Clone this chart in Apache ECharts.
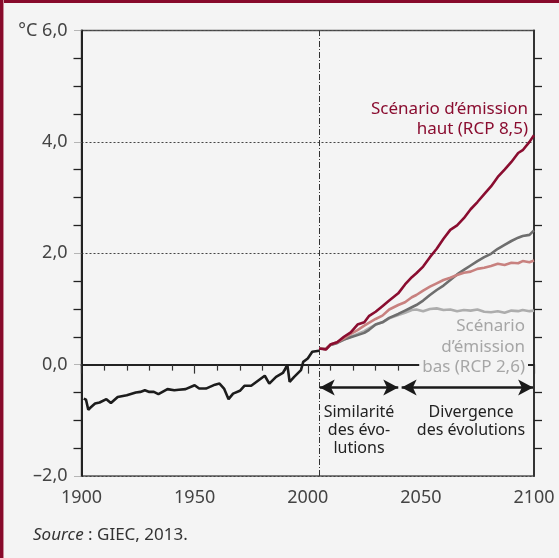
<!DOCTYPE html>
<html>
<head>
<meta charset="utf-8">
<script src="https://cdn.jsdelivr.net/npm/echarts@6/dist/echarts.min.js"></script>
<style>
  html, body { margin: 0; padding: 0; background: #f4f4f4; }
  #wrap { position: relative; width: 559px; height: 558px; }
  #chart { width: 559px; height: 558px; }
  .bar-top { position: absolute; left: 0; top: 0; width: 559px; height: 3px; background: #870a2b; }
  .bar-left { position: absolute; left: 0; top: 0; width: 3px; height: 558px; background: #870a2b; border-right: 1px solid #c98a98; }
</style>
</head>
<body>
<div id="wrap">
  <div id="chart"></div>
  <div class="bar-top"></div>
  <div class="bar-left"></div>
</div>
<script>
// observed temperature anomaly (°C)
const histYears = [1901, 1902, 1903, 1904, 1906, 1908, 1911, 1913, 1916, 1920, 1924, 1926, 1928, 1930, 1932, 1934, 1938, 1941, 1943, 1946, 1950, 1952, 1955, 1959, 1961, 1963, 1965, 1967, 1970, 1972, 1975, 1978, 1981, 1983, 1986, 1989, 1991, 1992, 1994, 1997, 1998, 2000, 2002, 2005]
const histTemp = [-0.61, -0.63, -0.81, -0.77, -0.70, -0.68, -0.62, -0.69, -0.58, -0.55, -0.50, -0.49, -0.46, -0.49, -0.49, -0.53, -0.44, -0.46, -0.45, -0.44, -0.37, -0.43, -0.43, -0.36, -0.34, -0.43, -0.62, -0.52, -0.47, -0.38, -0.38, -0.29, -0.20, -0.34, -0.22, -0.15, -0.01, -0.31, -0.22, -0.10, 0.05, 0.11, 0.23, 0.25]

// projections
const futureYears = [2005, 2008, 2010, 2013, 2016, 2019, 2022, 2025, 2027, 2030, 2033, 2036, 2040, 2043, 2046, 2048, 2051, 2054, 2057, 2060, 2063, 2066, 2069, 2072, 2075, 2078, 2081, 2084, 2087, 2090, 2093, 2095, 2098, 2100]
const rcp85 = [0.29, 0.27, 0.36, 0.40, 0.50, 0.58, 0.72, 0.76, 0.87, 0.95, 1.05, 1.15, 1.28, 1.44, 1.57, 1.64, 1.76, 1.93, 2.08, 2.26, 2.42, 2.50, 2.63, 2.79, 2.92, 3.06, 3.20, 3.37, 3.50, 3.64, 3.80, 3.85, 4.00, 4.12]
const rcp60 = [0.29, 0.28, 0.35, 0.39, 0.45, 0.49, 0.53, 0.57, 0.62, 0.72, 0.76, 0.84, 0.91, 0.97, 1.03, 1.07, 1.15, 1.25, 1.34, 1.42, 1.52, 1.62, 1.70, 1.78, 1.86, 1.93, 1.99, 2.08, 2.15, 2.22, 2.28, 2.31, 2.33, 2.41]
const rcp45 = [0.29, 0.28, 0.36, 0.40, 0.47, 0.55, 0.62, 0.70, 0.75, 0.82, 0.88, 0.99, 1.07, 1.12, 1.21, 1.25, 1.33, 1.40, 1.46, 1.52, 1.56, 1.61, 1.65, 1.67, 1.72, 1.74, 1.77, 1.81, 1.79, 1.83, 1.82, 1.86, 1.84, 1.87]
const rcp26 = [0.29, 0.28, 0.35, 0.39, 0.45, 0.50, 0.55, 0.60, 0.65, 0.72, 0.76, 0.83, 0.89, 0.93, 0.98, 0.99, 0.96, 1.00, 1.01, 0.98, 0.99, 0.96, 0.98, 0.97, 0.99, 0.95, 0.94, 0.96, 0.93, 0.97, 0.96, 0.98, 0.96, 0.97]

const splitYear = 2005
const arrowLevel = -0.41
const similarSpan = [2005.3, 2040]
const divergeSpan = [2041.5, 2099.6]

const pairs = (xs, ys) => xs.map((x, i) => [x, ys[i]])
const fmt = v => {
  if (v === 6) return '°C 6,0'
  if (v < 0) return '–' + Math.abs(v).toFixed(1).replace('.', ',')
  return v.toFixed(1).replace('.', ',')
}

const FONT = '"Noto Sans", sans-serif'
const chart = echarts.init(document.getElementById('chart'))

const lineSeries = (name, data, color, z) => ({
  name,
  type: 'line',
  data,
  showSymbol: false,
  symbol: 'none',
  z,
  lineStyle: { color, width: 2.6 },
  emphasis: { disabled: true }
})

const arrowEnd = x => ({ coord: [x, arrowLevel], symbol: 'arrow', symbolSize: [12, 15] })

chart.setOption({
  animation: false,
  backgroundColor: '#f4f4f4',
  textStyle: { fontFamily: FONT },
  grid: {
    left: 81.5,
    right: 25,
    top: 30.5,
    bottom: 82,
    show: true,
    borderColor: '#555',
    borderWidth: 1.5,
    backgroundColor: 'transparent'
  },
  xAxis: {
    type: 'value',
    min: 1900,
    max: 2100,
    interval: 50,
    axisLine: { show: true, lineStyle: { color: '#222', width: 2 } },
    axisTick: { show: true, length: 9, lineStyle: { color: '#333', width: 1.2 } },
    minorTick: { show: true, splitNumber: 5, length: 6, lineStyle: { color: '#333', width: 1.2 } },
    splitLine: { show: false },
    axisLabel: { color: '#444', fontSize: 18, margin: 13, fontFamily: FONT, formatter: v => String(v) }
  },
  yAxis: [
    {
      type: 'value',
      min: -2,
      max: 6,
      interval: 2,
      axisLine: { show: true, lineStyle: { color: '#222', width: 2 } },
      axisTick: { show: true, length: 8, lineStyle: { color: '#777', width: 1, type: 'dotted' } },
      minorTick: { show: true, splitNumber: 4, length: 8, lineStyle: { color: '#222', width: 1.3 } },
      splitLine: { show: true, lineStyle: { color: '#444', width: 1, type: [2, 2] } },
      axisLabel: { color: '#444', fontSize: 18, margin: 14, formatter: fmt, fontFamily: FONT }
    },
    {
      type: 'value',
      position: 'right',
      min: -2,
      max: 6,
      interval: 2,
      axisLine: { show: true, lineStyle: { color: '#333', width: 2 } },
      axisTick: { show: false },
      minorTick: { show: true, splitNumber: 4, length: 8, lineStyle: { color: '#222', width: 1.3 } },
      splitLine: { show: false },
      axisLabel: { show: false }
    }
  ],
  series: [
    lineSeries('RCP 2,6', pairs(futureYears, rcp26), '#adadad', 2),
    lineSeries('RCP 6,0', pairs(futureYears, rcp60), '#6e6e6e', 3),
    lineSeries('RCP 4,5', pairs(futureYears, rcp45), '#c8817f', 4),
    lineSeries('RCP 8,5', pairs(futureYears, rcp85), '#8a0d30', 5),
    Object.assign(lineSeries('Observations', pairs(histYears, histTemp), '#1c1c1c', 6), {
      markLine: {
        silent: true,
        symbol: 'none',
        label: { show: false },
        animation: false,
        data: [
          { xAxis: splitYear, lineStyle: { color: '#333', width: 1, type: [6, 2, 1, 2] } },
          [
            Object.assign(arrowEnd(similarSpan[0]), { lineStyle: { color: '#1a1a1a', width: 2.5, type: 'solid' } }),
            arrowEnd(similarSpan[1])
          ],
          [
            Object.assign(arrowEnd(divergeSpan[0]), { lineStyle: { color: '#1a1a1a', width: 2.5, type: 'solid' } }),
            arrowEnd(divergeSpan[1])
          ]
        ]
      }
    })
  ],
  graphic: [
    {
      type: 'text', z: 100, x: 528, y: 119,
      style: {
        text: 'Scénario d’émission\nhaut (RCP 8,5)',
        textAlign: 'right', textVerticalAlign: 'middle',
        font: '17px ' + FONT, lineHeight: 20, fill: '#8a0d30'
      }
    },
    {
      type: 'text', z: 100, x: 528, y: 347,
      style: {
        text: 'Scénario\nd’émission\nbas (RCP 2,6)',
        textAlign: 'right', textVerticalAlign: 'middle',
        font: '17px ' + FONT, lineHeight: 20.6, fill: '#a6a6a6',
        backgroundColor: '#f4f4f4', padding: [0, 3, 0, 3]
      }
    },
    {
      type: 'text', z: 100, x: 359, y: 430.5,
      style: {
        text: 'Similarité\ndes évo-\nlutions',
        textAlign: 'center', textVerticalAlign: 'middle',
        font: '16px ' + FONT, lineHeight: 17.8, fill: '#222'
      }
    },
    {
      type: 'text', z: 100, x: 471, y: 421.5,
      style: {
        text: 'Divergence\ndes évolutions',
        textAlign: 'center', textVerticalAlign: 'middle',
        font: '16px ' + FONT, lineHeight: 17.5, fill: '#222'
      }
    },
    {
      type: 'text', z: 100, x: 33, y: 535,
      style: {
        text: '{i|Source} : GIEC, 2013.',
        textVerticalAlign: 'middle',
        font: '17px ' + FONT, fill: '#333',
        rich: { i: { fontStyle: 'italic', fontSize: 17, fontFamily: FONT, fill: '#333' } }
      }
    }
  ]
})
</script>
</body>
</html>
